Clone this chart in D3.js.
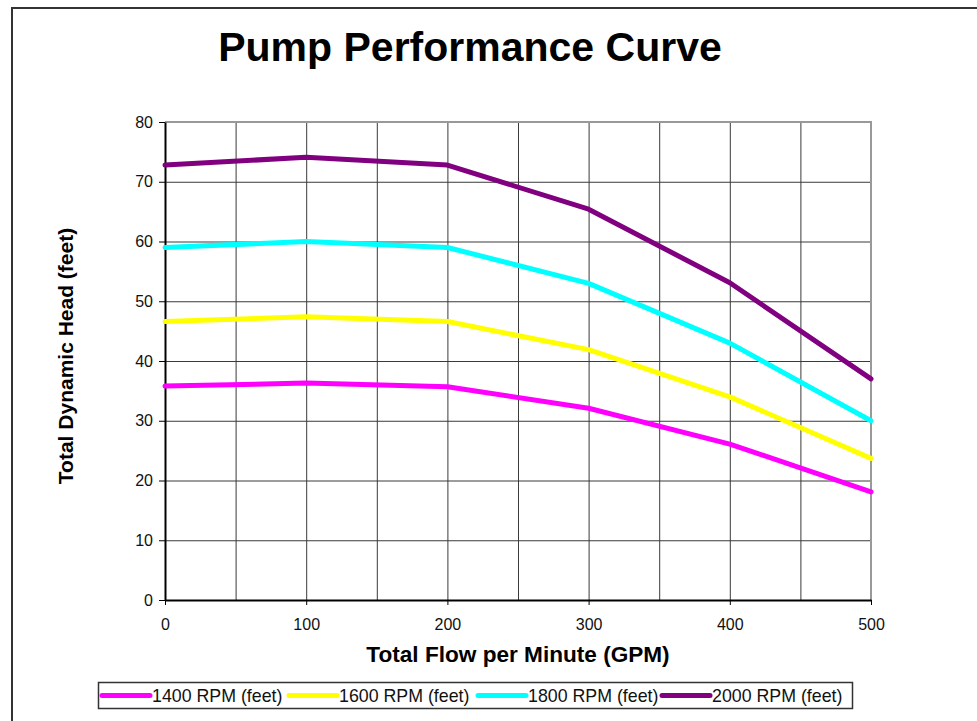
<!DOCTYPE html>
<html>
<head>
<meta charset="utf-8">
<script src="https://cdn.jsdelivr.net/npm/d3@7"></script>
<style>
  body { margin: 0; background: #fff; font-family: "Liberation Sans", Arial, sans-serif; }
  .grid line { stroke: #3a3a3a; stroke-width: 1; }
  .grid path { display: none; }
  .axis path, .axis line { stroke: #000; }
  .axis text { font-size: 16px; fill: #111; font-family: "Liberation Sans", Arial, sans-serif; }
</style>
</head>
<body>
<div id="chart"></div>
<script>
// Data
var flows = [0, 100, 200, 300, 400, 500];
var seriesNames = ["1400 RPM (feet)", "1600 RPM (feet)", "1800 RPM (feet)", "2000 RPM (feet)"];
var seriesColors = ["#ff00ff", "#ffff00", "#00ffff", "#800080"];
var rpm1400 = [35.8, 36.3, 35.7, 32.1, 26.1, 18.1];
var rpm1600 = [46.6, 47.4, 46.6, 41.9, 34.0, 23.7];
var rpm1800 = [59.0, 60.0, 59.0, 53.0, 43.0, 30.0];
var rpm2000 = [72.8, 74.1, 72.8, 65.4, 53.1, 37.0];
var xTicks = [0, 100, 200, 300, 400, 500];
var xGrid = [0, 50, 100, 150, 200, 250, 300, 350, 400, 450, 500];
var yTicks = [0, 10, 20, 30, 40, 50, 60, 70, 80];

var allSeries = [rpm1400, rpm1600, rpm1800, rpm2000];

var width = 977, height = 721;
var margins = { top: 122, right: 106, bottom: 121, left: 165 };
var chartWidth = width - margins.left - margins.right;
var chartHeight = height - margins.top - margins.bottom;

var svg = d3.select("#chart")
  .append("svg")
  .attr("width", width)
  .attr("height", height);

// Outer frame (runs off the right and bottom edges)
svg.append("path")
  .attr("d", "M12,730 L12,8 L990,8")
  .attr("fill", "none")
  .attr("stroke", "#333")
  .attr("stroke-width", 2);

// Title
svg.append("text")
  .attr("x", 470)
  .attr("y", 61)
  .attr("text-anchor", "middle")
  .style("font-size", "41px")
  .style("font-weight", "bold")
  .text("Pump Performance Curve");

var chartElement = svg.append("g")
  .attr("transform", "translate(" + margins.left + "," + margins.top + ")");

var xScale = d3.scaleLinear().domain([0, 500]).range([0, chartWidth]);
var yScale = d3.scaleLinear().domain([0, 80]).range([chartHeight, 0]);

// Grid
chartElement.append("g")
  .attr("class", "grid")
  .call(d3.axisLeft(yScale).tickValues(yTicks).tickSize(-chartWidth).tickFormat(""));

chartElement.append("g")
  .attr("class", "grid")
  .attr("transform", "translate(0," + chartHeight + ")")
  .call(d3.axisBottom(xScale).tickValues(xGrid).tickSize(-chartHeight).tickFormat(""));

// Top and right border
chartElement.append("path")
  .attr("d", "M0,0 L" + chartWidth + ",0 L" + chartWidth + "," + chartHeight)
  .attr("fill", "none")
  .attr("stroke", "#999")
  .attr("stroke-width", 2);

// Axes
var yAxis = chartElement.append("g")
  .attr("class", "axis y")
  .call(d3.axisLeft(yScale).tickValues(yTicks).tickSize(6).tickPadding(6).tickSizeOuter(0));
yAxis.select(".domain").attr("stroke-width", 2);

var xAxis = chartElement.append("g")
  .attr("class", "axis x")
  .attr("transform", "translate(0," + chartHeight + ")")
  .call(d3.axisBottom(xScale).tickValues(xTicks).tickSize(5).tickPadding(14).tickSizeOuter(0));
xAxis.select(".domain").attr("stroke-width", 2);

// Lines
var line = d3.line()
  .x(function(d, i) { return xScale(flows[i]); })
  .y(function(d) { return yScale(d); });

chartElement.append("g")
  .attr("class", "lines")
  .selectAll("path")
  .data(allSeries)
  .enter()
  .append("path")
  .attr("d", line)
  .attr("fill", "none")
  .attr("stroke", function(d, i) { return seriesColors[i]; })
  .attr("stroke-width", 5)
  .attr("stroke-linejoin", "round")
  .attr("stroke-linecap", "round");

// Axis titles
svg.append("text")
  .attr("x", 518)
  .attr("y", 662)
  .attr("text-anchor", "middle")
  .style("font-size", "22.6px")
  .style("font-weight", "bold")
  .text("Total Flow per Minute (GPM)");

svg.append("text")
  .attr("transform", "translate(73,356) rotate(-90)")
  .attr("text-anchor", "middle")
  .style("font-size", "21px")
  .style("font-weight", "bold")
  .text("Total Dynamic Head (feet)");

// Legend
var legend = svg.append("g").attr("class", "legend");
legend.append("rect")
  .attr("x", 98.5)
  .attr("y", 682.5)
  .attr("width", 754)
  .attr("height", 26)
  .attr("fill", "#fff")
  .attr("stroke", "#333")
  .attr("stroke-width", 1.5);

var legendX = [102, 289, 478, 662];
var items = legend.selectAll("g.item")
  .data(seriesNames)
  .enter()
  .append("g")
  .attr("class", "item")
  .attr("transform", function(d, i) { return "translate(" + legendX[i] + ",695.5)"; });

items.append("line")
  .attr("x1", 0)
  .attr("x2", 48)
  .attr("stroke", function(d, i) { return seriesColors[i]; })
  .attr("stroke-width", 5)
  .attr("stroke-linecap", "round");

items.append("text")
  .attr("x", 50)
  .attr("dy", "0.36em")
  .style("font-size", "17.8px")
  .style("fill", "#111")
  .text(function(d) { return d; });
</script>
</body>
</html>
